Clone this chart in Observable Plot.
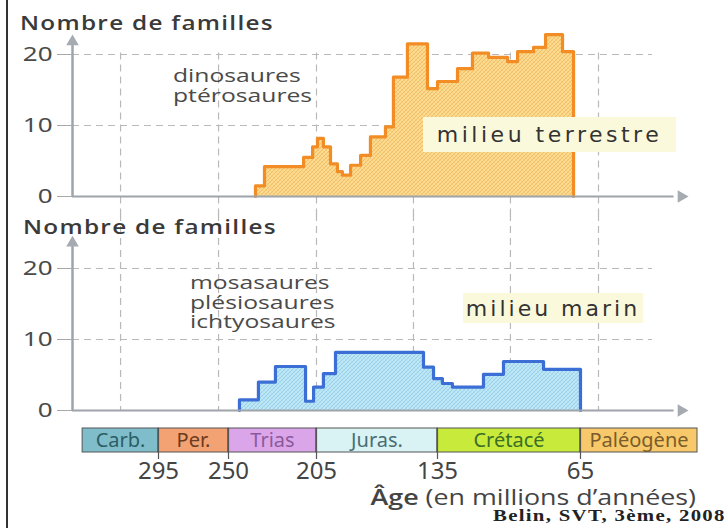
<!DOCTYPE html>
<html><head><meta charset="utf-8">
<script src="https://cdn.jsdelivr.net/npm/d3@7"></script>
<script src="https://cdn.jsdelivr.net/npm/@observablehq/plot@0.6"></script>
<style>
body{margin:0;background:#fff;}
#wrap{position:relative;width:726px;height:528px;overflow:hidden;background:#fff;font-family:"Open Sans",sans-serif;color:#444;}
#wrap svg{position:absolute;left:0;overflow:visible;background:transparent;}
.abs{position:absolute;white-space:nowrap;transform-origin:0 0;}
.title{font-weight:600;font-size:19px;color:#3a3a3a;letter-spacing:1px;line-height:20px;transform:scaleX(1.28);}
.note{font-size:19px;line-height:19.5px;color:#4a4a4a;transform:scaleX(1.3);}
.tag{background:#fbf9dc;font-family:"DejaVu Sans",sans-serif;font-size:22px;color:#333;display:flex;align-items:center;justify-content:center;}
.border{position:absolute;left:6px;top:0;width:2px;height:528px;background:#333;}
</style></head>
<body><div id="wrap"></div>
<script>
// --- data (ages in millions of years, number of families) ---
const terrestrialAges = [236.2, 231.6, 211.6, 207.0, 204.4, 201.0, 196.9, 192.9, 190.0, 185.3, 179.5, 173.8, 165.1, 160.5, 152.4, 140.8, 135, 125.2, 117.9, 110.0, 100.7, 95.8, 88.0, 82.1, 73.8, 68.4];
const terrestrialFamilies = [1.5, 4.2, 5.5, 7, 8.2, 7, 4.6, 3.5, 3, 4.4, 5.8, 8.4, 9.8, 16.8, 21.5, 15.2, 16.2, 18, 20.2, 19.6, 19, 20.4, 21, 22.8, 20.4];
const marineAges = [244.4, 234.7, 226.0, 210.6, 206.5, 201.0, 194.0, 143.1, 137.3, 132.6, 127.7, 112.5, 102.7, 83.1, 65];
const marineFamilies = [1.5, 4, 6.2, 1.3, 3.3, 5.2, 8.2, 6.1, 4.5, 3.8, 3.3, 5.1, 6.9, 5.8];
const periodNames = ["Carb.", "Per.", "Trias", "Juras.", "Crétacé", "Paléogène"];
const periodStart = [355, 295, 250, 205, 135, 65];
const periodEnd = [295, 250, 205, 135, 65, 0];
const periodFill = ["#7fbdca", "#f2a273", "#dba5ea", "#d9f2f3", "#c8ea3a", "#f7c96a"];
const periodInk = ["#2d5e66", "#6b3b20", "#8b5a9b", "#4a6d73", "#3b6e27", "#7a5c2c"];
const ageTicks = [295, 250, 205, 135, 65];
const familyTicks = [0, 10, 20];
const gridAges = [325, 256.4, 205, 148.9, 99.3, 55];

// --- schematic (non-linear) geological timeline of the original figure ---
const timeline = d3.scaleLinear()
  .domain([363, 295, 250, 205, 135, 65, 0])
  .range([0, 86, 156, 244, 365, 508, 625]);
const axisAge = 363, arrowAge = 9, gridEndAge = 25;
const xScale = {domain: [0, 625], range: [72, 697], axis: null};
const T = a => timeline(a);

function steps(ages, counts) {
  return [{age: ages[0], n: 0}, ...ages.map((a, i) => ({age: a, n: i < counts.length ? counts[i] : 0}))];
}

function stretch(svg, selector, k) {
  d3.select(svg).selectAll(selector).each(function () {
    const t = this.getAttribute("transform") || "";
    this.setAttribute("transform", t + ` scale(${k},1)`);
  });
}

function hatch(svg, id, base, line) {
  const defs = d3.select(svg).insert("defs", ":first-child");
  const p = defs.append("pattern").attr("id", id).attr("patternUnits", "userSpaceOnUse")
    .attr("width", 4).attr("height", 4);
  p.append("rect").attr("width", 4).attr("height", 4).attr("fill", base);
  p.append("path").attr("d", "M-1,1 l2,-2 M0,4 l4,-4 M3,5 l2,-2").attr("stroke", line).attr("stroke-width", 0.8);
  p.append("path").attr("d", "M-1,3 l2,2 M0,0 l4,4 M3,-1 l2,2").attr("stroke", line).attr("stroke-width", 0.5).attr("opacity", 0.6);
  d3.select(svg).selectAll('g[aria-label="area"] path').attr("fill", `url(#${id})`);
}

function panel(ages, counts, fill, stroke, gridTop, gridBottom, axisTop) {
  const rows = steps(ages, counts);
  const grid = {stroke: "#b9b9b9", strokeDasharray: "7,5", strokeWidth: 1.2};
  const svg = Plot.plot({
    width: 726, height: 214, marginLeft: 72, marginTop: 54, marginBottom: 18, marginRight: 29,
    x: xScale,
    y: {domain: [0, 20], axis: null},
    marks: [
      Plot.ruleX(gridAges, {x: d => T(d), y1: gridTop, y2: gridBottom, ...grid}),
      Plot.ruleY(familyTicks.filter(d => d > 0), {x1: T(axisAge), x2: T(gridEndAge), ...grid}),
      Plot.areaY(rows, {x: d => T(d.age), y: "n", curve: "step-after", fill}),
      Plot.lineY(rows, {x: d => T(d.age), y: "n", curve: "step-after", stroke, strokeWidth: 3.2}),
      Plot.ruleY([0], {x1: T(axisAge), x2: T(arrowAge + 4), stroke: "#9ea4aa", strokeWidth: 2}),
      Plot.ruleX([T(axisAge)], {y1: 0, y2: axisTop - 0.4, stroke: "#9ea4aa", strokeWidth: 2.5}),
      Plot.dot([0], {x: T(arrowAge), y: 0, symbol: "triangle2", r: 6, rotate: 90, fill: "#a5abb1"}),
      Plot.dot([0], {x: T(axisAge), y: axisTop, symbol: "triangle2", r: 6, fill: "#a5abb1"}),
      Plot.axisY({ticks: familyTicks, label: null, tickSize: 15, tickPadding: 5, fontSize: 20, fill: "#4a4a4a", stroke: "#a8a8a8"})
    ]
  });
  stretch(svg, 'g[aria-label="y-axis tick label"] text', 1.3);
  return svg;
}

const wrap = document.getElementById("wrap");

const topPanel = panel(terrestrialAges, terrestrialFamilies, "#f9d384", "#f28d26", 20.2, -2.6, 21.8);
topPanel.style.top = "0px";
hatch(topPanel, "hatchLand", "#fbdc90", "#f1b45c");
wrap.appendChild(topPanel);

const bottomPanel = panel(marineAges, marineFamilies, "#b0def1", "#3c6fd5", 27.6, 0, 23.6);
bottomPanel.style.top = "214px";
hatch(bottomPanel, "hatchSea", "#c0e7f6", "#8ccae6");
wrap.appendChild(bottomPanel);

const periods = periodNames.map((name, i) => ({name, start: periodStart[i], end: periodEnd[i], fill: periodFill[i], ink: periodInk[i]}));
const bar = Plot.plot({
  width: 726, height: 72, marginTop: 13, marginBottom: 35, marginLeft: 0, marginRight: 0,
  x: xScale,
  y: {domain: [0, 1], axis: null},
  color: {type: "identity"},
  marks: [
    Plot.rect(periods, {x1: d => T(d.start), x2: d => T(d.end), y1: 0, y2: 1, fill: "fill", stroke: "#555", strokeWidth: 1}),
    Plot.text(periods, {x: d => T((d.start + d.end) / 2), y: 0.5, text: "name", fill: "ink", fontSize: 20, ariaLabel: "period"}),
    Plot.ruleX(ageTicks, {x: d => T(d), insetBottom: -7, stroke: "#555", strokeWidth: 1.2}),
    Plot.text(ageTicks, {x: d => T(d), text: d => String(d), frameAnchor: "bottom", dy: 26, fontSize: 24, fill: "#444", ariaLabel: "age"})
  ]
});
bar.style.top = "415px";
stretch(bar, 'g[aria-label="period"] text', 1.15);
stretch(bar, 'g[aria-label="age"] text', 1.2);
wrap.appendChild(bar);

wrap.insertAdjacentHTML("beforeend", `
<div class="border"></div>
<div class="abs title" style="left:20px;top:13px;">Nombre de familles</div>
<div class="abs note" style="left:173px;top:66px;">dinosaures<br>ptérosaures</div>
<div class="abs tag" style="left:423px;top:117px;width:253px;height:35px;letter-spacing:3.5px;">milieu terrestre</div>
<div class="abs title" style="left:23px;top:217px;">Nombre de familles</div>
<div class="abs note" style="left:190px;top:273px;">mosasaures<br>plésiosaures<br>ichtyosaures</div>
<div class="abs tag" style="left:463px;top:293px;width:180px;height:30px;letter-spacing:3px;">milieu marin</div>
<div class="abs" style="left:696px;top:481px;font-size:22px;color:#444;transform:scaleX(1.22) translateX(-100%);"><b style="font-weight:600">Âge</b> (en millions d’années)</div>
<div class="abs" style="left:493px;top:507px;font-family:'Liberation Serif',serif;font-weight:bold;font-size:16px;color:#222;letter-spacing:1px;transform:scaleX(1.3);">Belin, SVT, 3ème, 2008</div>
`);
</script>
</body></html>
